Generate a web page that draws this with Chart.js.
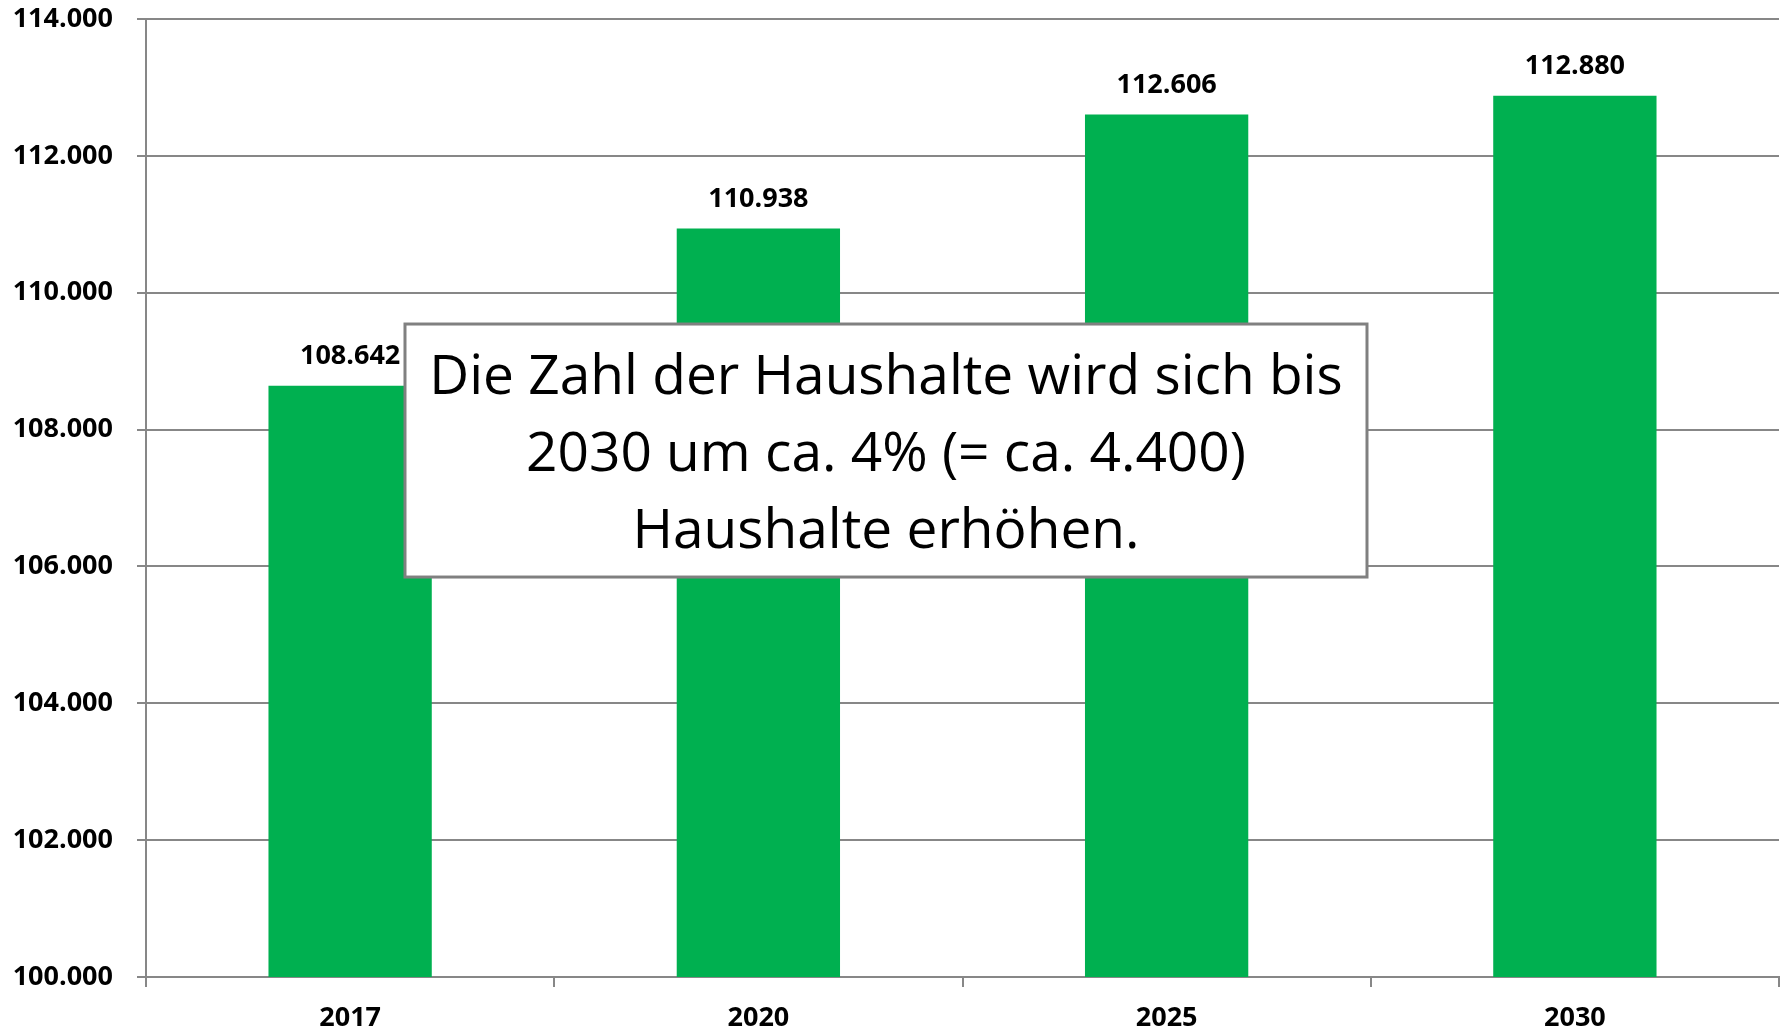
<!DOCTYPE html>
<html>
<head>
<meta charset="utf-8">
<script src="https://cdn.jsdelivr.net/npm/chart.js@4.4.0/dist/chart.umd.min.js"></script>
<style>
  html, body { margin: 0; padding: 0; background: #fff; }
  #wrap { width: 1787px; height: 1030px; }
</style>
</head>
<body>
<div id="wrap"><canvas id="haushalte" width="1787" height="1030"></canvas></div>
<script>
const years = ['2017', '2020', '2025', '2030'];
const households = [108642, 110938, 112606, 112880];
const yMin = 100000;
const yMax = 114000;
const yStep = 2000;
const noteLines = [
    'Die Zahl der Haushalte wird sich bis',
    '2030 um ca. 4% (= ca. 4.400)',
    'Haushalte erhöhen.'
];

const fontFamily = '"Open Sans", "Noto Sans", sans-serif';
const axisGrey = '#878787';

function formatDe(value) {
    return String(Math.round(value)).replace(/\B(?=(\d{3})+(?!\d))/g, '.');
}

// value labels above the bars
const valueLabels = {
    id: 'valueLabels',
    afterDatasetsDraw(chart) {
        const ctx = chart.ctx;
        const meta = chart.getDatasetMeta(0);
        ctx.save();
        ctx.font = 'bold 27px ' + fontFamily;
        ctx.fillStyle = '#000';
        ctx.textAlign = 'center';
        ctx.textBaseline = 'middle';
        meta.data.forEach((bar, i) => {
            ctx.fillText(formatDe(households[i]), bar.x, bar.y - 29);
        });
        ctx.restore();
    }
};

// text box drawn on top of the chart
const noteBox = {
    id: 'noteBox',
    afterDraw(chart) {
        const ctx = chart.ctx;
        const area = chart.chartArea;
        const w = area.right - area.left;
        const h = area.bottom - area.top;
        const left = area.left + w * 0.1586;
        const right = area.left + w * 0.7477;
        const top = area.top + h * 0.3184;
        const bottom = area.top + h * 0.5825;
        ctx.save();
        ctx.fillStyle = '#fff';
        ctx.fillRect(left, top, right - left, bottom - top);
        ctx.strokeStyle = '#808080';
        ctx.lineWidth = 3;
        ctx.strokeRect(left, top, right - left, bottom - top);
        ctx.font = '55px ' + fontFamily;
        ctx.fillStyle = '#000';
        ctx.textAlign = 'center';
        ctx.textBaseline = 'middle';
        const cx = (left + right) / 2;
        const lineGap = 77;
        const firstY = (top + bottom) / 2 - lineGap + 5;
        noteLines.forEach((line, i) => {
            ctx.fillText(line, cx, firstY + i * lineGap);
        });
        ctx.restore();
    }
};

const ctx = document.getElementById('haushalte').getContext('2d');

const haushalteChart = new Chart(ctx, {
    type: 'bar',
    data: {
        labels: years,
        datasets: [{
            label: 'Haushalte',
            data: households,
            backgroundColor: '#00B050',
            borderWidth: 0,
            categoryPercentage: 0.4,
            barPercentage: 1.0
        }]
    },
    options: {
        responsive: false,
        animation: false,
        layout: {
            padding: { top: 0, right: 8, bottom: 0, left: 0 }
        },
        plugins: {
            legend: { display: false },
            tooltip: { enabled: false }
        },
        scales: {
            x: {
                grid: {
                    offset: true,
                    drawOnChartArea: false,
                    drawTicks: true,
                    tickLength: 10,
                    color: axisGrey,
                    lineWidth: 2
                },
                border: { color: axisGrey, width: 2 },
                ticks: {
                    color: '#000',
                    padding: 15,
                    font: { family: fontFamily, size: 27, weight: 'bold' }
                },
                afterFit(scale) {
                    scale.height = 53;
                    scale.paddingLeft = 0;
                    scale.paddingRight = 0;
                }
            },
            y: {
                min: yMin,
                max: yMax,
                grid: {
                    color: axisGrey,
                    lineWidth: 2,
                    drawTicks: true,
                    tickLength: 9
                },
                border: { color: axisGrey, width: 2 },
                ticks: {
                    stepSize: yStep,
                    color: '#000',
                    padding: 24,
                    font: { family: fontFamily, size: 27, weight: 'bold' },
                    callback: (value) => formatDe(value)
                },
                afterFit(scale) {
                    scale.width = 146;
                    scale.paddingTop = 19;
                    scale.paddingBottom = 0;
                }
            }
        }
    },
    plugins: [valueLabels, noteBox]
});
</script>
</body>
</html>
